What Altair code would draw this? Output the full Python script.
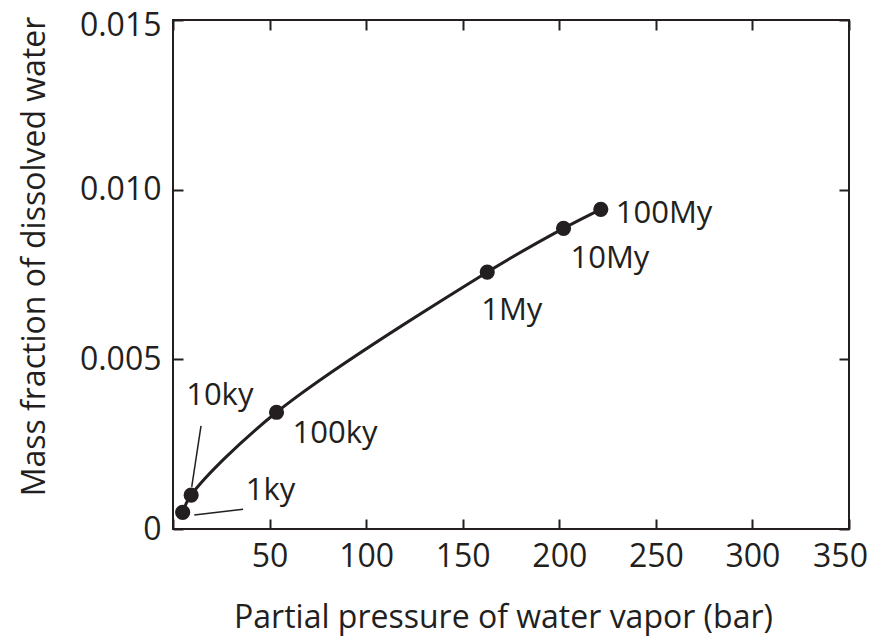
import altair as alt
import pandas as pd

# Data
ages = ["1ky", "10ky", "100ky", "1My", "10My", "100My"]
pressure_bar = [5.0, 9.4, 53.6, 162.7, 202.2, 221.5]
mass_fraction = [0.00049, 0.00100, 0.00344, 0.00757, 0.00886, 0.00942]

# leader lines for the two small labels (start/end in data units)
leader_id = ["1ky", "1ky", "10ky", "10ky"]
leader_x = [11.0, 36.3, 9.7, 14.5]
leader_y = [0.000413, 0.000580, 0.00124, 0.00304]

x_ticks = [0, 50, 100, 150, 200, 250, 300, 350]
y_ticks = [0, 0.005, 0.010, 0.015]

# label offsets (pixels) – styling only
label_dx = [63, -5, 16, -6, 7, 15]
label_dy = [-12, -90, 31, 48, 40, 14]

INK = "#231f20"
FONT = "Open Sans"

df = pd.DataFrame({"age": ages, "p": pressure_bar, "w": mass_fraction})
lead = pd.DataFrame({"id": leader_id, "p": leader_x, "w": leader_y})

xs = alt.Scale(domain=[0, 350], nice=False, zero=False)
ys = alt.Scale(domain=[0, 0.015], nice=False, zero=False)

x_bottom = alt.X(
    "p:Q", scale=xs,
    axis=alt.Axis(
        orient="bottom", values=x_ticks, offset=-10, tickSize=10, tickWidth=2,
        tickColor=INK, domain=False, grid=False, labelFontSize=32, labelFont=FONT,
        labelColor=INK, labelPadding=12, labelFlush=False,
        labelOffset={"condition": {"test": "datum.value >= 349", "value": -9},
                     "value": 0},
        labelExpr="datum.value == 0 ? '' : datum.label",
        title="Partial pressure of water vapor (bar)", titleFont=FONT,
        titleFontSize=32, titleFontWeight="normal", titleColor=INK,
        titleBaseline="alphabetic", titleX=330, titleY=108,
    ),
)
y_left = alt.Y(
    "w:Q", scale=ys,
    axis=alt.Axis(
        orient="left", values=y_ticks, offset=-10, tickSize=10, tickWidth=2,
        tickColor=INK, domain=False, grid=False, labelFontSize=32, labelFont=FONT,
        labelColor=INK, labelPadding=12, labelFlush=False,
        labelOffset={"condition": {"test": "datum.value >= 0.0149", "value": 5},
                     "value": 0},
        labelExpr="datum.value == 0 ? '0' : format(datum.value, '.3f')",
        title="Mass fraction of dissolved water", titleFont=FONT,
        titleFontSize=32, titleFontWeight="normal", titleColor=INK,
        titleBaseline="alphabetic", titleX=-139, titleY=236, titleAngle=270,
    ),
)
x_top = alt.X(
    "p:Q", scale=xs,
    axis=alt.Axis(orient="top", values=x_ticks, offset=-10, tickSize=10,
                  tickWidth=2, tickColor=INK, domain=False, grid=False,
                  labels=False, title=None),
)
y_right = alt.Y(
    "w:Q", scale=ys,
    axis=alt.Axis(orient="right", values=y_ticks, offset=-10, tickSize=10,
                  tickWidth=2, tickColor=INK, domain=False, grid=False,
                  labels=False, title=None),
)

curve = alt.Chart(df).mark_line(
    color=INK, strokeWidth=3, interpolate="catmull-rom"
).encode(x=x_bottom, y=y_left)

pts = alt.Chart(df).mark_point(
    filled=True, color=INK, size=230, opacity=1
).encode(x=x_top, y=y_right)

leaders = alt.Chart(lead).mark_line(color=INK, strokeWidth=1.5).encode(
    x=alt.X("p:Q", scale=xs, axis=None),
    y=alt.Y("w:Q", scale=ys, axis=None),
    detail="id:N",
)

texts = []
for i, a in enumerate(ages):
    texts.append(
        alt.Chart(df.iloc[[i]]).mark_text(
            align="left", baseline="alphabetic", font=FONT, fontSize=31,
            color=INK, dx=label_dx[i], dy=label_dy[i],
        ).encode(
            x=alt.X("p:Q", scale=xs, axis=None),
            y=alt.Y("w:Q", scale=ys, axis=None),
            text="age:N",
        )
    )

chart = alt.layer(curve, pts, leaders, *texts).properties(
    width=676, height=509,
    autosize=alt.AutoSizeParams(type="none"),
    padding={"left": 165, "top": 12, "right": 20, "bottom": 111},
    background="white",
).configure_view(stroke=INK, strokeWidth=2)

chart.save("out.html", embed_options={"renderer": "svg", "actions": False})
